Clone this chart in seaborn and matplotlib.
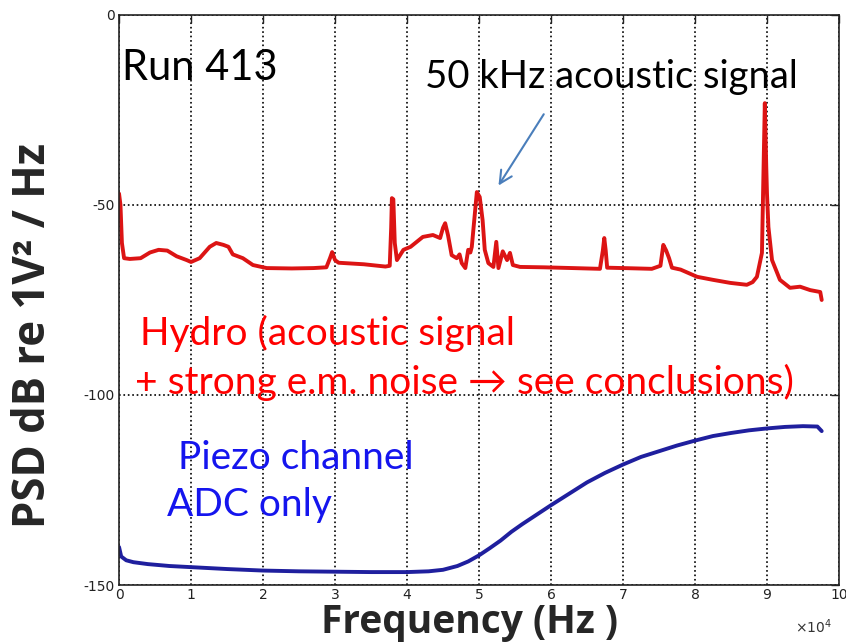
import matplotlib
matplotlib.use("Agg")
import matplotlib.pyplot as plt
import seaborn as sns
import pandas as pd
import numpy as np

# ---- data (frequency in units of 10^4 Hz, PSD in dB) ----
hydro_f = [0.00, 0.02, 0.04, 0.07, 0.15, 0.30, 0.43, 0.55, 0.67, 0.80, 0.94, 1.00, 1.12,
           1.26, 1.35, 1.45, 1.52, 1.58, 1.72, 1.86, 2.05, 2.40, 2.70, 2.88, 2.93, 2.96,
           3.00, 3.05, 3.40, 3.70, 3.76, 3.78, 3.79, 3.81, 3.83, 3.86, 3.95, 4.05, 4.22,
           4.36, 4.46, 4.50, 4.53, 4.57, 4.62, 4.69, 4.73, 4.76, 4.81, 4.85, 4.88, 4.90,
           4.93, 4.97, 5.01, 5.05, 5.08, 5.13, 5.20, 5.24, 5.27, 5.33, 5.39, 5.43, 5.47,
           5.57, 5.90, 6.30, 6.68, 6.72, 6.74, 6.76, 6.78, 7.00, 7.40, 7.52, 7.56, 7.60,
           7.64, 7.68, 7.80, 8.03, 8.25, 8.49, 8.72, 8.80, 8.86, 8.93, 8.95, 8.97, 8.99,
           9.00, 9.02, 9.07, 9.18, 9.32, 9.46, 9.60, 9.74, 9.76]
hydro_db = [-47, -50, -60, -64, -64.2, -64, -62.5, -61.8, -62, -63.5, -64.5, -65, -64,
            -61, -60, -60.5, -61, -63, -64, -65.8, -66.6, -66.7, -66.6, -66.4, -64, -62.4,
            -64.5, -65.2, -65.6, -66.2, -66, -56, -48.2, -48.5, -60, -64.5, -61.8, -61, -58.4,
            -57.9, -58.7, -56, -54.8, -58, -63.2, -64, -63, -65.3, -66.6, -61.8, -62.5, -61,
            -54.8, -46.6, -47.9, -54, -61.8, -65.3, -66.3, -59.7, -66.6, -62.2, -64.5, -62.6, -65.8,
            -66.3, -66.4, -66.6, -66.8, -62, -58.7, -62, -66.5, -66.6, -66.8, -66, -60.5, -62,
            -64, -66.5, -67, -68.9, -69.7, -70.5, -71, -70.3, -68.9, -62.6, -42.6, -23.2, -40,
            -47, -55.8, -64.5, -69.7, -71.8, -71.5, -72.4, -72.9, -75]

piezo_f = [0, 0.03, 0.1, 0.2, 0.4, 0.7, 1.0, 1.5, 2.0, 2.5, 3.0, 3.5, 4.0, 4.3, 4.5, 4.7,
           4.85, 5.0, 5.15, 5.3, 5.45, 5.6, 5.8, 6.0, 6.25, 6.5, 6.75, 7.0, 7.25, 7.5, 7.75,
           8.0, 8.25, 8.5, 8.75, 9.0, 9.25, 9.5, 9.7, 9.76]
piezo_db = [-140, -142.5, -143.5, -144, -144.5, -145, -145.3, -145.8, -146.2, -146.4, -146.5,
            -146.6, -146.6, -146.4, -146, -145, -143.8, -142.2, -140.3, -138.3, -136, -134,
            -131.5, -129, -126, -123, -120.5, -118.3, -116.3, -114.8, -113.3, -112, -110.8,
            -110, -109.3, -108.8, -108.4, -108.2, -108.3, -109.5]

x_ticks = [0, 1, 2, 3, 4, 5, 6, 7, 8, 9, 10]
y_ticks = [-150, -100, -50, 0]

hydro = pd.DataFrame({"f": np.array(hydro_f) * 1e4, "psd": hydro_db})
piezo = pd.DataFrame({"f": np.array(piezo_f) * 1e4, "psd": piezo_db})

sns.set_style("white")
plt.rcParams["font.family"] = ["Lato", "DejaVu Sans"]

fig = plt.figure(figsize=(8.46, 6.43), dpi=100)
ax = fig.add_axes([0.1407, 0.0902, 0.8510, 0.8865])

sns.lineplot(data=hydro, x="f", y="psd", ax=ax, color="#dc1414", lw=2.8,
             sort=False, estimator=None)
sns.lineplot(data=piezo, x="f", y="psd", ax=ax, color="#1f1f9e", lw=2.8,
             sort=False, estimator=None)

ax.set_xlim(0, 1e5)
ax.set_ylim(-150, 0)
ax.set_xticks([t * 1e4 for t in x_ticks])
ax.set_yticks(y_ticks)
tick_font = dict(family=["Liberation Sans Narrow", "DejaVu Sans"], size=10)
ax.set_xticklabels([str(t) for t in x_ticks], **tick_font, color="#333333")
ax.set_yticklabels([str(t) for t in y_ticks], **tick_font, color="#333333")
ax.tick_params(direction="in", top=True, right=True, length=6, width=1, pad=3, colors="#222222")
ax.tick_params(axis="x", pad=2)
ax.grid(True, linestyle=":", color="black", lw=1.2)
for s in ax.spines.values():
    s.set_visible(True)
    s.set_color("#222222")
    s.set_linewidth(1.2)

ax.set_xlabel("")
ax.set_ylabel("")
fig.text(0.5555, 0.0315, "Frequency (Hz )", fontsize=28, fontweight="bold",
         ha="center", va="center", family=["Open Sans", "DejaVu Sans"])
fig.text(0.040, 0.479, "PSD dB re 1V² / Hz", fontsize=31.5, fontweight="bold",
         ha="center", va="center", rotation=90, family=["Open Sans", "DejaVu Sans"])
fig.text(0.962, 0.025, "×10$^4$", fontsize=10, ha="center", va="center",
         color="#333333", family=["Liberation Sans Narrow", "DejaVu Sans"])

ax.text(0.04e4, -13.9, "Run 413", fontsize=30, va="center", ha="left", color="black")
ax.text(4.25e4, -16.3, "50 kHz acoustic signal", fontsize=27.5, va="center", ha="left", color="black")
ax.annotate("", xy=(5.25e4, -45.5), xytext=(5.92e4, -25.5),
            arrowprops=dict(arrowstyle="->,head_length=0.9,head_width=0.45", color="#4a7ebb", lw=1.5))
ax.text(0.29e4, -83.7, "Hydro (acoustic signal", fontsize=28, va="center", ha="left", color="#ff0000")
ax.text(0.22e4, -96.6, "+ strong e.m. noise \u2192 see conclusions)", fontsize=28, va="center",
        ha="left", color="#ff0000", family=["Lato", "DejaVu Sans"])
ax.text(0.82e4, -116.6, "Piezo channel", fontsize=28, va="center", ha="left", color="#1515ee")
ax.text(0.67e4, -129, "ADC only", fontsize=28, va="center", ha="left", color="#1515ee")

fig.savefig("out.png", dpi=100)
